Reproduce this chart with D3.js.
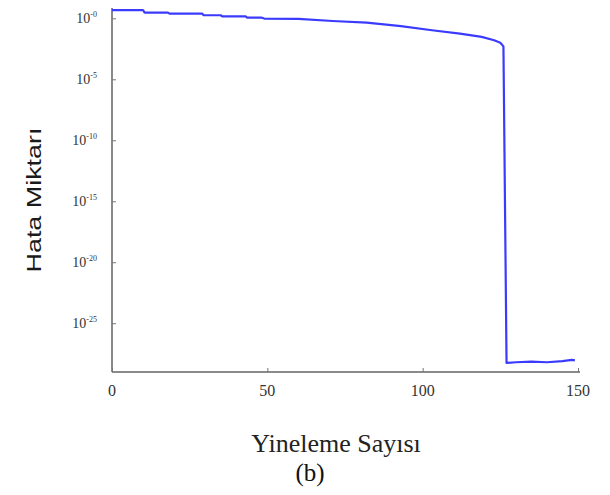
<!DOCTYPE html>
<html><head><meta charset="utf-8">
<script src="https://cdn.jsdelivr.net/npm/d3@7"></script>
<style>
html,body{margin:0;padding:0;background:#fff;}
svg{display:block;}
</style></head>
<body>
<svg id="chart" width="610" height="495"></svg>
<script>
// ---- data ----
const iterations = [0, 10, 10.5, 18, 18.5, 29, 29.5, 35, 35.5, 43, 43.5, 48, 49, 60, 71, 82, 93, 103, 112, 119, 123, 125, 126, 127, 130, 135, 140, 145, 148, 149];
const errorValues = [4.6, 4.6, 2.95, 2.95, 2.45, 2.45, 1.78, 1.78, 1.45, 1.45, 1.15, 1.15, 0.95, 0.89, 0.60, 0.45, 0.23, 0.105, 0.056, 0.030, 0.016, 0.010, 0.005, 5.6e-29, 6.3e-29, 7.0e-29, 6.3e-29, 7.9e-29, 1.0e-28, 9.0e-29];
const xTicks = [0, 50, 100, 150];
const yTickExps = [0, -5, -10, -15, -20, -25];
const yTickLabels = ["-0", "-5", "-10", "-15", "-20", "-25"];
const xTitle = "Yineleme Sayısı";
const yTitle = "Hata Miktarı";
const caption = "(b)";

const svg = d3.select("#chart");
const x = d3.scaleLinear().domain([0, 150]).range([112, 578]);
const y = d3.scaleLog().domain([1e-29, 7]).range([372, 8]);

const axisColor = "#8a8a8a";

// y axis
const yAxis = d3.axisLeft(y).tickValues(yTickExps.map(e => Math.pow(10, e))).tickSize(-4).tickFormat("");
const gy = svg.append("g").attr("transform", "translate(112,0)").call(yAxis);
gy.select(".domain").attr("stroke", axisColor).attr("stroke-width", 2).attr("d", "M0,8V372");
gy.selectAll(".tick line").attr("stroke", "#777").attr("stroke-width", 1);

// x axis
const xAxis = d3.axisBottom(x).tickValues(xTicks).tickSize(-4).tickFormat("");
const gx = svg.append("g").attr("transform", "translate(0,372)").call(xAxis);
gx.select(".domain").attr("stroke", axisColor).attr("stroke-width", 2).attr("d", "M112,0H580");
gx.selectAll(".tick line").attr("stroke", "#777").attr("stroke-width", 1);

// x tick labels
svg.append("g").selectAll("text").data(xTicks).join("text")
  .attr("x", d => x(d)).attr("y", 396)
  .attr("text-anchor", "middle")
  .attr("font-family", "Liberation Serif, Times New Roman, serif")
  .attr("font-size", 16).attr("fill", "#333")
  .text(d => d);

// y tick labels with superscripts
const yl = svg.append("g").selectAll("text").data(yTickExps).join("text")
  .attr("x", 97).attr("y", d => y(Math.pow(10, d)) + 5)
  .attr("text-anchor", "end")
  .attr("font-family", "Liberation Serif, Times New Roman, serif")
  .attr("fill", "#333");
yl.append("tspan").attr("font-size", 14).text("10");
yl.append("tspan").attr("font-size", 8).attr("dy", -6).text((d, i) => yTickLabels[i]);

// line
const pts = iterations.map((it, i) => [it, errorValues[i]]);
svg.append("path").datum(pts)
  .attr("fill", "none").attr("stroke", "#3b3bff").attr("stroke-width", 2.2)
  .attr("stroke-linejoin", "round")
  .attr("d", d3.line().x(d => x(d[0])).y(d => y(d[1])));

// titles
svg.append("text").attr("transform", "translate(41,200) rotate(-90)")
  .attr("text-anchor", "middle")
  .attr("font-family", "Liberation Sans, Arial, sans-serif")
  .attr("font-size", 21).attr("fill", "#1a1a1a")
  .attr("textLength", 145).attr("lengthAdjust", "spacingAndGlyphs")
  .text(yTitle);

svg.append("text").attr("x", 336).attr("y", 452)
  .attr("text-anchor", "middle")
  .attr("font-family", "Liberation Serif, Times New Roman, serif")
  .attr("font-size", 26).attr("fill", "#222")
  .text(xTitle);

svg.append("text").attr("x", 310).attr("y", 481)
  .attr("text-anchor", "middle")
  .attr("font-family", "Liberation Serif, Times New Roman, serif")
  .attr("font-size", 25).attr("fill", "#111")
  .text(caption);
</script>
</body></html>
